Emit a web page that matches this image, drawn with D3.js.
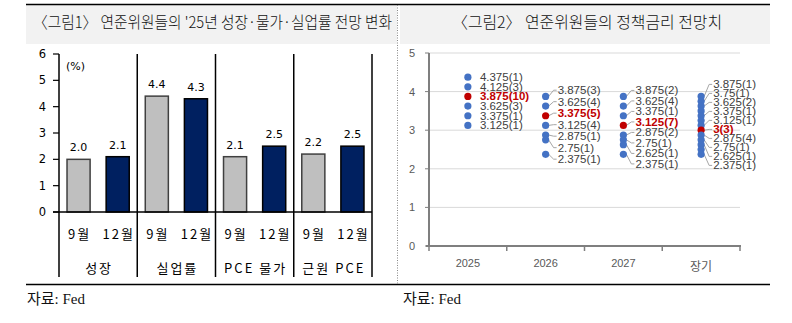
<!DOCTYPE html>
<html><head><meta charset="utf-8">
<script src="https://cdn.jsdelivr.net/npm/d3@7"></script>
<style>
body{margin:0;background:#fff;}
svg{display:block;}
</style></head>
<body>
<svg id="c" width="792" height="323"></svg>
<script>
// ---------- DATA ----------
const titles = ["〈그림1〉 연준위원들의 '25년 성장·물가·실업률 전망 변화", "〈그림2〉 연준위원들의 정책금리 전망치"];
const sourceText = "자료: Fed";
const groups = ["성장", "실업률", "PCE 물가", "근원 PCE"];
const months = ["9월", "12월"];
const sepValues = [2.0, 4.4, 2.1, 2.2];
const decValues = [2.1, 4.3, 2.5, 2.5];
const leftTicks = [0, 1, 2, 3, 4, 5, 6];

const years = ["2025", "2026", "2027", "장기"];
const rightTicks = [0, 1, 2, 3, 4, 5];
// dot positions per year (policy rate, %)
const dots2025 = [4.375, 4.125, 3.875, 3.625, 3.375, 3.125];
const dots2026 = [3.875, 3.625, 3.375, 3.125, 2.875, 2.75, 2.375];
const dots2027 = [3.875, 3.625, 3.375, 3.125, 2.875, 2.75, 2.625, 2.375];
const dotsLong = [3.875, 3.75, 3.625, 3.5, 3.375, 3.25, 3.125, 3.0, 2.875, 2.75, 2.625, 2.5, 2.375];
// labelled levels: [rate, count]
const labels2025 = [[4.375,1],[4.125,3],[3.875,10],[3.625,3],[3.375,1],[3.125,1]];
const labels2026 = [[3.875,3],[3.625,4],[3.375,5],[3.125,4],[2.875,1],[2.75,1],[2.375,1]];
const labels2027 = [[3.875,2],[3.625,4],[3.375,1],[3.125,7],[2.875,2],[2.75,1],[2.625,1],[2.375,1]];
const labelsLong = [[3.875,1],[3.75,1],[3.625,2],[3.375,1],[3.125,1],[3,3],[2.875,4],[2.75,1],[2.625,1],[2.375,1]];
const medians = [3.875, 3.375, 3.125, 3.0];

// ---------- DRAW ----------
const svg = d3.select("#c");
const KR = "'Noto Sans CJK KR', 'Noto Sans', sans-serif";

// frame: title bars, lines
svg.append("rect").attr("x", 26).attr("y", 5).attr("width", 371).attr("height", 39).attr("fill", "#f2f2f2");
svg.append("rect").attr("x", 400).attr("y", 5).attr("width", 370).attr("height", 39).attr("fill", "#f2f2f2");
svg.append("line").attr("x1", 26).attr("x2", 770).attr("y1", 4.5).attr("y2", 4.5).attr("stroke", "#000").attr("stroke-width", 1.5);
svg.append("line").attr("x1", 26).attr("x2", 770).attr("y1", 284.5).attr("y2", 284.5).attr("stroke", "#000").attr("stroke-width", 1.5);
svg.append("line").attr("x1", 397.5).attr("x2", 397.5).attr("y1", 5).attr("y2", 284).attr("stroke", "#888").attr("stroke-width", 1).attr("stroke-dasharray", "1,1.5");

svg.append("text").attr("x", 33).attr("y", 28).attr("font-family", KR).attr("font-size", 16).attr("font-weight", 300)
  .attr("fill", "#111").attr("textLength", 359).attr("lengthAdjust", "spacingAndGlyphs").text(titles[0]);
svg.append("text").attr("x", 452).attr("y", 28).attr("font-family", KR).attr("font-size", 16).attr("font-weight", 300)
  .attr("fill", "#111").attr("textLength", 270).attr("lengthAdjust", "spacingAndGlyphs").text(titles[1]);

svg.append("text").attr("x", 27).attr("y", 304).attr("font-family", "'Liberation Serif', 'Noto Sans CJK KR', serif").attr("font-size", 15).attr("fill", "#111").text(sourceText);
svg.append("text").attr("x", 403).attr("y", 304).attr("font-family", "'Liberation Serif', 'Noto Sans CJK KR', serif").attr("font-size", 15).attr("fill", "#111").text(sourceText);

// ---------- LEFT CHART ----------
const L = svg.append("g");
const x0 = d3.scaleBand().domain(groups).range([59, 372]);
const x1 = d3.scaleBand().domain(months).range([0, x0.bandwidth()]).paddingInner(0.41).paddingOuter(0.205);
const yL = d3.scaleLinear().domain([0, 6]).range([212, 54]);

// vertical frame lines
const vx = [59].concat(groups.map(g => x0(g) + x0.bandwidth()));
L.selectAll(".vl").data(vx).join("line").attr("x1", d => d).attr("x2", d => d)
  .attr("y1", yL(6)).attr("y2", 277).attr("stroke", "#000").attr("stroke-width", 1.5);
// y ticks
L.selectAll(".yt").data(leftTicks).join("line").attr("x1", 53).attr("x2", 59)
  .attr("y1", d => yL(d)).attr("y2", d => yL(d)).attr("stroke", "#000").attr("stroke-width", 1.2);
L.selectAll(".ytl").data(leftTicks).join("text").attr("x", 46).attr("y", d => yL(d) + 4)
  .attr("text-anchor", "end").attr("font-family", "'DejaVu Sans', sans-serif").attr("font-size", 11.5).attr("fill", "#000").text(d => d);
L.append("text").attr("x", 66).attr("y", 70).attr("font-family", "'DejaVu Sans', sans-serif").attr("font-size", 11).attr("fill", "#000").text("(%)");

const barData = [];
groups.forEach((g, i) => {
  barData.push({g, m: months[0], v: sepValues[i]});
  barData.push({g, m: months[1], v: decValues[i]});
});
L.selectAll(".bar").data(barData).join("rect")
  .attr("x", d => x0(d.g) + x1(d.m)).attr("width", x1.bandwidth())
  .attr("y", d => yL(d.v)).attr("height", d => yL(0) - yL(d.v))
  .attr("fill", d => d.m === months[0] ? "#bfbfbf" : "#002060")
  .attr("stroke", d => d.m === months[0] ? "#404040" : "#000").attr("stroke-width", 1.5);
L.selectAll(".bl").data(barData).join("text")
  .attr("x", d => x0(d.g) + x1(d.m) + x1.bandwidth() / 2).attr("y", d => yL(d.v) - 8)
  .attr("text-anchor", "middle").attr("font-family", "'DejaVu Sans', sans-serif").attr("font-size", 11).attr("fill", "#000")
  .text(d => d.v.toFixed(1));
// axis line
L.append("line").attr("x1", 53).attr("x2", 372).attr("y1", yL(0)).attr("y2", yL(0)).attr("stroke", "#000").attr("stroke-width", 1.5);
// month labels
L.selectAll(".ml").data(barData).join("text")
  .attr("x", d => x0(d.g) + x1(d.m) + x1.bandwidth() / 2 + 1).attr("y", 239)
  .attr("text-anchor", "middle").attr("font-family", KR).attr("font-size", 13).attr("letter-spacing", 2).attr("fill", "#000")
  .text(d => d.m);
L.selectAll(".gl").data(groups).join("text")
  .attr("x", d => x0(d) + x0.bandwidth() / 2 + 1).attr("y", 273)
  .attr("text-anchor", "middle").attr("font-family", KR).attr("font-size", 13).attr("letter-spacing", 2).attr("fill", "#000")
  .text(d => d);

// ---------- RIGHT CHART ----------
const R = svg.append("g");
const xR = d3.scaleBand().domain(years).range([429, 740]);
const yR = d3.scaleLinear().domain([0, 5]).range([246, 53]);
const GRAY = "#595959";

R.selectAll(".gr").data(rightTicks.filter(d => d > 0)).join("line")
  .attr("x1", 429).attr("x2", 740).attr("y1", d => yR(d)).attr("y2", d => yR(d)).attr("stroke", "#d9d9d9").attr("stroke-width", 1);
R.selectAll(".yt").data(rightTicks).join("line").attr("x1", 425).attr("x2", 429)
  .attr("y1", d => yR(d)).attr("y2", d => yR(d)).attr("stroke", "#7f7f7f").attr("stroke-width", 1);
R.selectAll(".ytl").data(rightTicks).join("text").attr("x", 415).attr("y", d => yR(d) + 4)
  .attr("text-anchor", "end").attr("font-family", "'Liberation Sans', sans-serif").attr("font-size", 11).attr("fill", GRAY).text(d => d);
R.append("line").attr("x1", 429).attr("x2", 429).attr("y1", yR(5)).attr("y2", yR(0)).attr("stroke", "#7f7f7f").attr("stroke-width", 2);
R.append("line").attr("x1", 426).attr("x2", 741).attr("y1", yR(0)).attr("y2", yR(0)).attr("stroke", "#7f7f7f").attr("stroke-width", 2);
const xt = years.map(y => xR(y)).concat([740]);
R.selectAll(".xt").data(xt).join("line").attr("x1", d => d).attr("x2", d => d)
  .attr("y1", yR(0)).attr("y2", yR(0) + 5).attr("stroke", "#7f7f7f").attr("stroke-width", 1.5);
R.selectAll(".xtl").data(years).join("text")
  .attr("x", d => xR(d) + xR.bandwidth() / 2).attr("y", d => d === "장기" ? 271 : 267)
  .attr("text-anchor", "middle").attr("font-family", d => d === "장기" ? KR : "'Liberation Sans', sans-serif")
  .attr("font-size", d => d === "장기" ? 12 : 11).attr("fill", GRAY).text(d => d);

const allDots = [dots2025, dots2026, dots2027, dotsLong];
const allLabels = [labels2025, labels2026, labels2027, labelsLong];
const minGaps = [9, 11.5, 10.5, 9];

function spread(ys, gap) {
  // simple cluster relaxation
  let clusters = ys.map(y => ({ys: [y], top: y, n: 1}));
  let changed = true;
  while (changed) {
    changed = false;
    for (let i = 0; i < clusters.length - 1; i++) {
      const a = clusters[i], b = clusters[i + 1];
      if (b.top - (a.top + (a.n - 1) * gap) < gap - 1e-6) {
        const ys2 = a.ys.concat(b.ys);
        const n = ys2.length;
        const mean = d3.mean(ys2);
        clusters.splice(i, 2, {ys: ys2, n, top: mean - (n - 1) * gap / 2});
        changed = true;
        break;
      }
    }
  }
  const out = [];
  clusters.forEach(c => { for (let k = 0; k < c.n; k++) out.push(c.top + k * gap); });
  return out;
}

years.forEach((yr, i) => {
  const cx = xR(yr) + xR.bandwidth() / 2;
  const g = R.append("g");
  const labs = allLabels[i];
  const ly = spread(labs.map(d => yR(d[0])), minGaps[i]);
  // leader lines
  if (i > 0) {
    g.selectAll(".ld").data(labs).join("polyline")
      .attr("points", (d, k) => {
        const dy = yR(d[0]);
        return `${cx + 3},${dy} ${cx + 8},${ly[k]} ${cx + 11},${ly[k]}`;
      })
      .attr("fill", "none").attr("stroke", "#a6a6a6").attr("stroke-width", 1);
  }
  g.selectAll(".dt").data(allDots[i]).join("circle")
    .attr("cx", cx).attr("cy", d => yR(d)).attr("r", 3.6)
    .attr("fill", d => d === medians[i] ? "#c00000" : "#4472c4");
  g.selectAll(".lb").data(labs).join("text")
    .attr("x", cx + 12).attr("y", (d, k) => ly[k] + 4)
    .attr("font-family", "'Liberation Sans', sans-serif").attr("font-size", 11.5)
    .attr("font-weight", d => d[0] === medians[i] ? "bold" : "normal")
    .attr("fill", d => d[0] === medians[i] ? "#c00000" : "#404040")
    .text(d => `${d[0]}(${d[1]})`);
});
</script>
</body></html>
